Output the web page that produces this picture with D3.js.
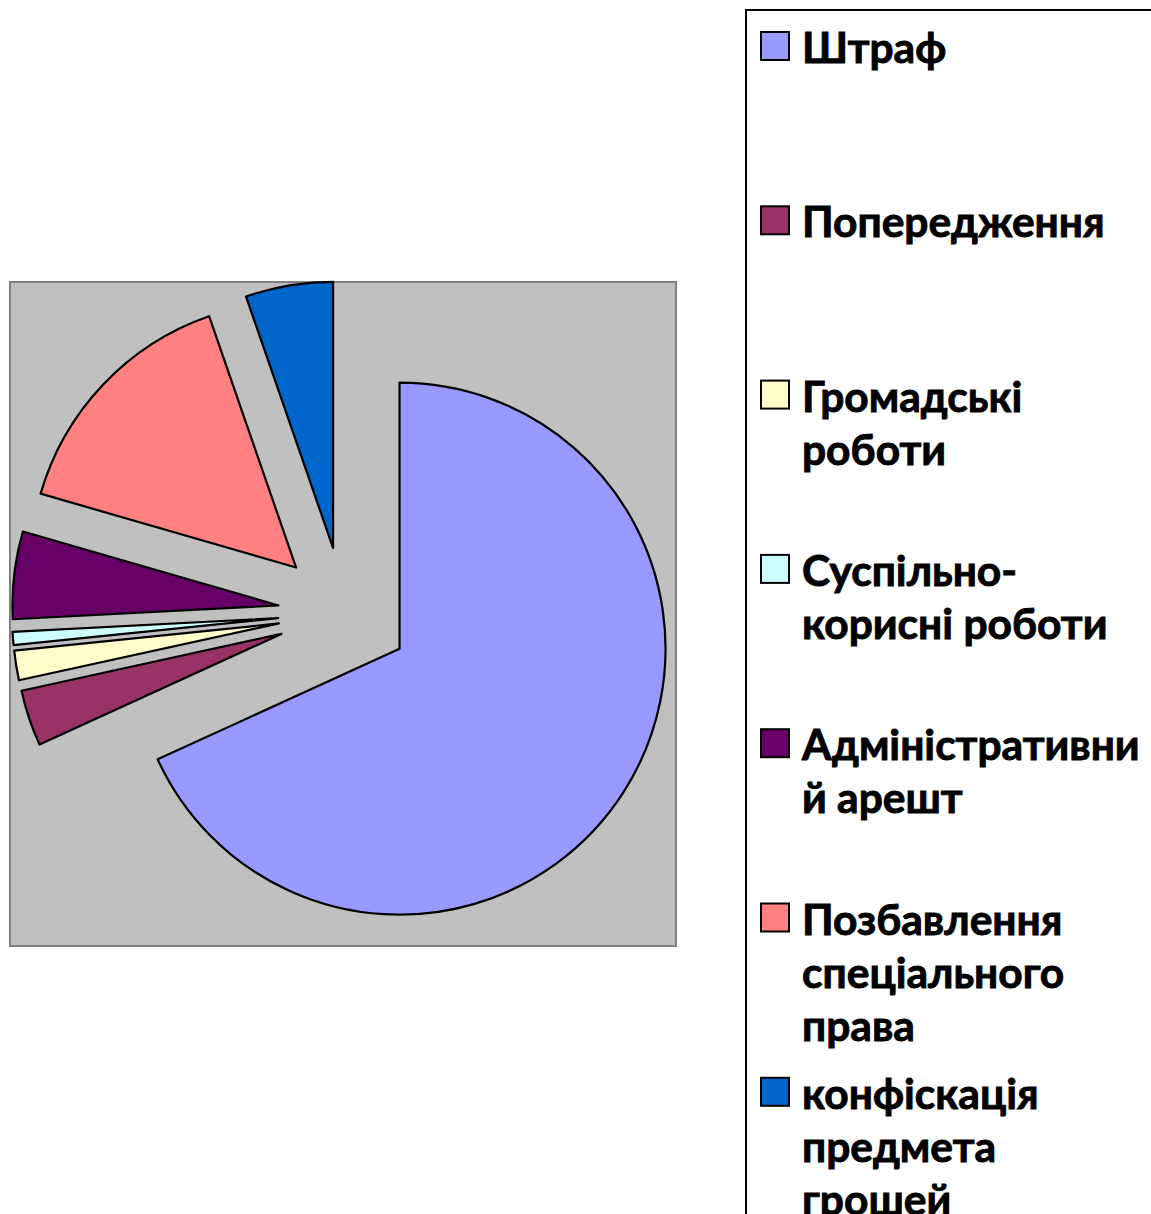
<!DOCTYPE html>
<html>
<head>
<meta charset="utf-8">
<script src="https://cdn.jsdelivr.net/npm/d3@7"></script>
<style>
  body { margin: 0; background: #fff; }
  svg { display: block; }
</style>
</head>
<body>
<svg id="chart" width="1151" height="1214"></svg>
<script>
// Chart data
const categories = ["Штраф", "Попередження", "Громадські роботи", "Суспільно-корисні роботи",
  "Адміністративний арешт", "Позбавлення спеціального права", "конфіскація предмета грошей"];
const values = [68.1, 3.4, 1.8, 0.8, 5.3, 15.2, 5.3];
const colors = ["#9999FF", "#993366", "#FFFFCC", "#CCFFFF", "#660066", "#FF8080", "#0066CC"];
// legend lines as they wrap in the original
const legendLines = [
  ["Штраф"],
  ["Попередження"],
  ["Громадські", "роботи"],
  ["Суспільно-", "корисні роботи"],
  ["Адміністративни", "й арешт"],
  ["Позбавлення", "спеціального", "права"],
  ["конфіскація", "предмета", "грошей"]
];

const svg = d3.select("#chart");

// Plot area (grey box)
const plot = { x: 10, y: 282, w: 666, h: 664 };
svg.append("rect")
  .attr("x", plot.x).attr("y", plot.y)
  .attr("width", plot.w).attr("height", plot.h)
  .attr("fill", "#C0C0C0")
  .attr("stroke", "#808080")
  .attr("stroke-width", 2);

// Pie with every slice pulled out from the centre
const cx = 344, cy = 613, radius = 266, explode = 66;
const pie = d3.pie().sort(null).value(d => d)(values);
const arc = d3.arc().innerRadius(0).outerRadius(radius);

const g = svg.append("g").attr("transform", `translate(${cx},${cy})`);
g.selectAll("path")
  .data(pie)
  .join("path")
  .attr("d", arc)
  .attr("transform", d => {
    const a = (d.startAngle + d.endAngle) / 2;
    return `translate(${Math.sin(a) * explode},${-Math.cos(a) * explode})`;
  })
  .attr("fill", (d, i) => colors[i])
  .attr("stroke", "#000")
  .attr("stroke-width", 2.2)
  .attr("stroke-linejoin", "round");

// Legend box
svg.append("rect")
  .attr("x", 746).attr("y", 10)
  .attr("width", 420).attr("height", 1230)
  .attr("fill", "#fff")
  .attr("stroke", "#000")
  .attr("stroke-width", 2);

const legend = svg.append("g");
const itemStep = 174.3, lineStep = 53, firstBase = 63;

legendLines.forEach((lines, i) => {
  const base = firstBase + i * itemStep;
  legend.append("rect")
    .attr("x", 761).attr("y", base - 31)
    .attr("width", 28).attr("height", 28)
    .attr("fill", colors[i])
    .attr("stroke", "#000")
    .attr("stroke-width", 2);
  const t = legend.append("text")
    .attr("x", 802).attr("y", base)
    .attr("font-family", "Lato, 'Open Sans', sans-serif")
    .attr("font-weight", "bold")
    .attr("font-size", 42.5)
    .attr("fill", "#000")
    .attr("stroke", "#000")
    .attr("stroke-width", 0.9);
  lines.forEach((ln, j) => {
    t.append("tspan").attr("x", 802).attr("y", base + j * lineStep).text(ln);
  });
});
</script>
</body>
</html>
